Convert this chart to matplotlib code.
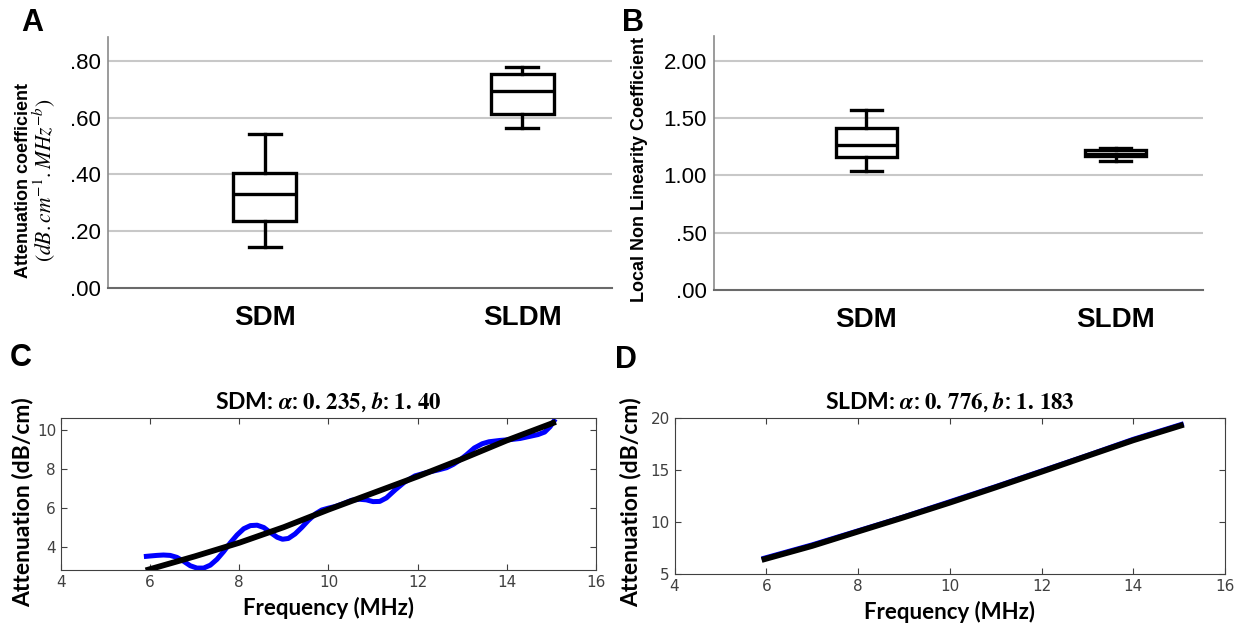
import matplotlib.pyplot as plt

plt.rcParams['mathtext.fontset'] = 'stix'

groups = ['SDM', 'SLDM']
# whisker low, Q1, median, Q3, whisker high
att_sdm = [0.143, 0.236, 0.331, 0.404, 0.542]
att_sldm = [0.562, 0.613, 0.695, 0.753, 0.777]
nl_sdm = [1.04, 1.157, 1.26, 1.41, 1.57]
nl_sldm = [1.125, 1.165, 1.19, 1.22, 1.24]

att_ticks = [0.0, 0.2, 0.4, 0.6, 0.8]
att_ticklabels = ['.00', '.20', '.40', '.60', '.80']
nl_ticks = [0.0, 0.5, 1.0, 1.5, 2.0]
nl_ticklabels = ['.00', '.50', '1.00', '1.50', '2.00']

# SDM measured attenuation (blue) and power-law fit (black)
sdm_freq = [5.86, 6.0, 6.15, 6.3, 6.45, 6.6, 6.75, 6.9, 7.05, 7.2, 7.35, 7.5,
            7.65, 7.8, 7.95, 8.1, 8.25, 8.4, 8.55, 8.7, 8.85, 8.97, 9.1, 9.25,
            9.4, 9.55, 9.72, 9.85, 9.99, 10.15, 10.3, 10.52, 10.7, 10.85, 11.0,
            11.15, 11.3, 11.5, 11.7, 11.94, 12.2, 12.47, 12.65, 12.8, 12.95,
            13.1, 13.27, 13.45, 13.6, 13.85, 14.07, 14.3, 14.5, 14.7, 14.85,
            14.97, 15.09]
sdm_att = [3.49, 3.52, 3.55, 3.57, 3.55, 3.45, 3.25, 3.02, 2.9, 2.9, 3.05, 3.35,
           3.75, 4.2, 4.6, 4.92, 5.08, 5.1, 4.98, 4.72, 4.48, 4.38, 4.42, 4.65,
           4.98, 5.35, 5.7, 5.88, 5.97, 6.06, 6.18, 6.38, 6.43, 6.4, 6.31,
           6.32, 6.5, 6.92, 7.3, 7.63, 7.8, 7.94, 8.05, 8.22, 8.45, 8.72, 9.06,
           9.28, 9.38, 9.45, 9.49, 9.55, 9.65, 9.75, 9.88, 10.15, 10.55]
sdm_fit_freq = [5.9, 7, 8, 9, 10, 11, 12, 13, 14, 15.1]
sdm_fit_att = [2.78, 3.5, 4.2, 5.0, 5.9, 6.75, 7.6, 8.5, 9.45, 10.4]

sldm_freq = [5.9, 7, 8, 9, 10, 11, 12, 13, 14, 15.1]
sldm_att = [6.45, 7.8, 9.15, 10.5, 11.95, 13.4, 14.9, 16.4, 17.95, 19.45]
sldm_fit_att = [6.35, 7.7, 9.08, 10.45, 11.86, 13.33, 14.83, 16.35, 17.86, 19.36]

fig = plt.figure(figsize=(12.39, 6.3), dpi=100)

box_font = 'Liberation Sans'
cal_font = ['Lato', 'DejaVu Sans']


def box_panel(ax, s1, s2, ticks, ticklabels, ymax):
    stats = []
    for name, s in zip(groups, [s1, s2]):
        stats.append(dict(label=name, whislo=s[0], q1=s[1], med=s[2], q3=s[3],
                          whishi=s[4], fliers=[]))
    lp = dict(color='black', linewidth=2.4)
    ax.bxp(stats, positions=[1, 2], widths=0.245, patch_artist=True,
           boxprops=dict(facecolor='white', edgecolor='black', linewidth=2.4),
           medianprops=lp, whiskerprops=lp, capprops=lp, capwidths=0.125,
           showfliers=False, zorder=3)
    ax.set_xlim(0.39, 2.35)
    ax.set_ylim(0, ymax)
    ax.set_yticks(ticks)
    ax.set_yticklabels(ticklabels, fontsize=16, family=box_font)
    ax.set_xticks([1, 2])
    ax.set_xticklabels(groups, fontsize=20, fontweight='bold', family=box_font)
    ax.tick_params(length=0, pad=5)
    ax.tick_params(axis='x', pad=12)
    for y in ticks[1:]:
        ax.axhline(y, color='#c8c8c8', linewidth=1.5, zorder=1)
    for side in ['top', 'right']:
        ax.spines[side].set_visible(False)
    ax.spines['left'].set_color('#8a8a8a')
    ax.spines['bottom'].set_color('#6a6a6a')
    ax.spines['left'].set_linewidth(1.2)
    ax.spines['bottom'].set_linewidth(1.5)


axA = fig.add_axes([0.0872, 0.5429, 0.4068, 0.3984])
box_panel(axA, att_sdm, att_sldm, att_ticks, att_ticklabels, 0.884)
fig.text(0.019, 0.714, 'Attenuation coefficient', rotation=90,
         ha='center', va='center', fontsize=13, fontweight='bold', family=box_font)
fig.text(0.035, 0.714, r'$(dB.cm^{-1}.MHz^{-b})$', rotation=90,
         ha='center', va='center', fontsize=15.5)

axB = fig.add_axes([0.5763, 0.5397, 0.3947, 0.4032])
box_panel(axB, nl_sdm, nl_sldm, nl_ticks, nl_ticklabels, 2.215)
fig.text(0.5165, 0.731, 'Local Non Linearity Coefficient',
         rotation=90, ha='center', va='center', fontsize=13, fontweight='bold',
         family=box_font)


def line_panel(ax, fx, meas, ffx, fit, ylim, yticks, title):
    ax.plot(fx, meas, color='#0000ff', linewidth=3.6, solid_capstyle='butt')
    ax.plot(ffx, fit, color='black', linewidth=4.2, solid_capstyle='butt')
    ax.set_xlim(4, 16)
    ax.set_ylim(*ylim)
    ax.set_xticks([4, 6, 8, 10, 12, 14, 16])
    ax.set_yticks(yticks)
    ax.tick_params(direction='in', top=True, right=True, length=4,
                   labelsize=11, labelcolor='#404040', color='#404040', width=0.8)
    for sp in ax.spines.values():
        sp.set_color('#404040')
        sp.set_linewidth(0.8)
    ax.set_xlabel('Frequency (MHz)', fontsize=16, fontweight='bold', family=cal_font,
                  labelpad=5)
    ax.set_title(title, fontsize=16.5, fontweight='bold', family=cal_font, pad=7)


axC = fig.add_axes([0.0492, 0.0952, 0.4318, 0.2413])
line_panel(axC, sdm_freq, sdm_att, sdm_fit_freq, sdm_fit_att, (2.8, 10.6),
           [4, 6, 8, 10],
           r'SDM: $\boldsymbol{\alpha}$: $\mathbf{0.\,235}$, $\boldsymbol{b}$: $\mathbf{1.\,40}$')
fig.text(0.018, 0.203, 'Attenuation (dB/cm)', rotation=90,
         ha='center', va='center', fontsize=16.5, fontweight='bold', family=cal_font)

axD = fig.add_axes([0.5444, 0.0889, 0.4443, 0.2476])
line_panel(axD, sldm_freq, sldm_att, sldm_freq, sldm_fit_att, (5, 20),
           [5, 10, 15, 20],
           r'SLDM: $\boldsymbol{\alpha}$: $\mathbf{0.\,776}$, $\boldsymbol{b}$: $\mathbf{1.\,183}$')
fig.text(0.509, 0.203, 'Attenuation (dB/cm)', rotation=90,
         ha='center', va='center', fontsize=16.5, fontweight='bold', family=cal_font)

# panel letters
for x, y, s in [(0.017, 0.963, 'A'), (0.502, 0.963, 'B'),
                (0.008, 0.432, 'C'), (0.496, 0.428, 'D')]:
    fig.text(x, y, s, fontsize=22, fontweight='bold', family=box_font, va='center')

fig.savefig('out.png', dpi=100)
